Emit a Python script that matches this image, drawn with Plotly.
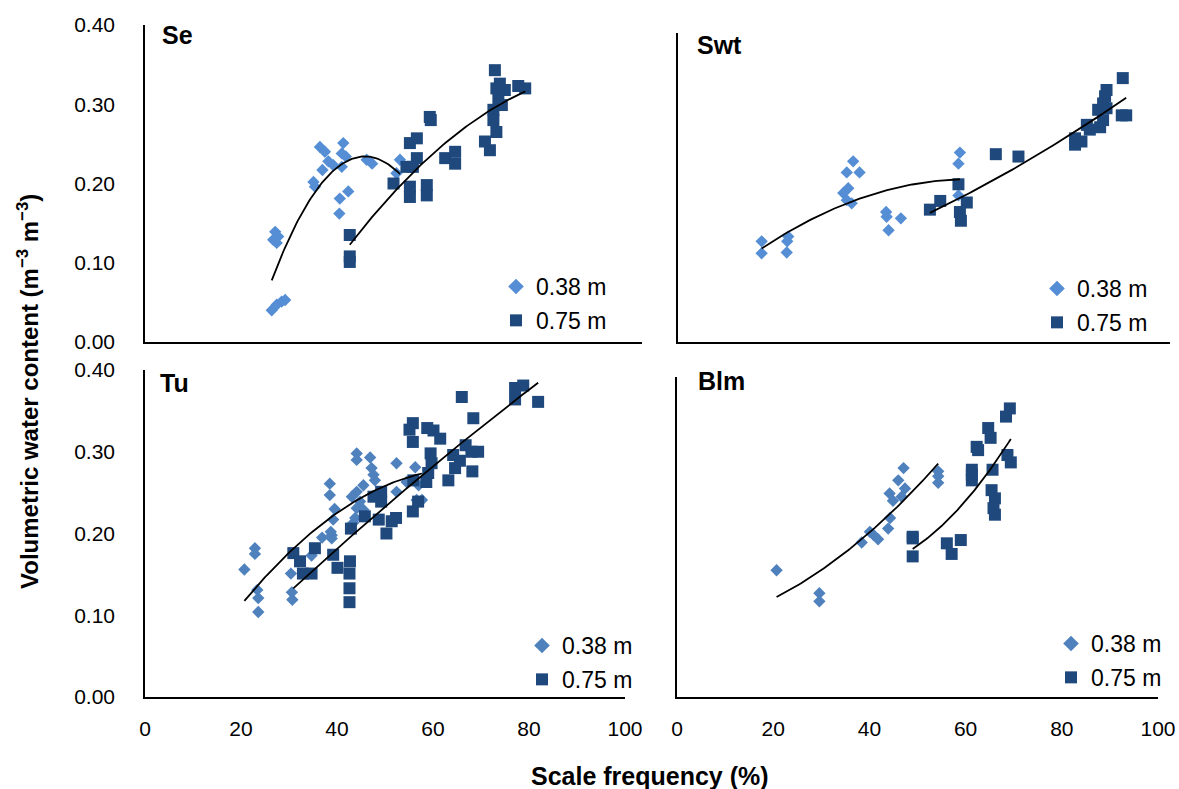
import numpy as np
import plotly.graph_objects as go

W, H = 1179, 789

# ---------------- data (scale frequency %, volumetric water content) ----------------
se_x38 = [25.5, 26.5, 27.5, 28.2, 26.2, 26.8, 25.8, 26.5, 33.9, 34.2, 35.7, 35.2, 36.2, 36.9, 37.9,
          39.9, 39.6, 40.4, 39.6, 39.2, 40.9, 39.1, 44.6, 45.7, 51.3, 50.6]
se_y38 = [0.040, 0.047, 0.051, 0.053, 0.139, 0.133, 0.129, 0.125, 0.202, 0.196, 0.217, 0.246, 0.240,
          0.228, 0.223, 0.251, 0.238, 0.234, 0.221, 0.181, 0.190, 0.162, 0.230, 0.225, 0.230, 0.213]
se_x75 = [70.4, 71.4, 70.7, 72.4, 71.1, 71.8, 70.1, 70.1, 70.7, 68.4, 69.4, 75.1, 76.5, 57.3, 57.5,
          53.3, 54.7, 54.7, 52.6, 53.9, 60.4, 62.4, 62.4, 50.0, 53.3, 53.3, 56.7, 56.7, 41.2, 41.2, 41.2]
se_y75 = [0.343, 0.326, 0.320, 0.318, 0.307, 0.299, 0.293, 0.280, 0.265, 0.253, 0.242, 0.323, 0.320,
          0.284, 0.280, 0.251, 0.257, 0.232, 0.221, 0.221, 0.232, 0.240, 0.225, 0.200, 0.196, 0.183,
          0.198, 0.185, 0.135, 0.108, 0.101]

swt_x38 = [17.0, 17.0, 22.4, 22.2, 22.1, 35.6, 34.3, 36.9, 34.6, 33.6, 34.3, 35.3, 42.3, 42.4, 45.3,
           42.8, 57.3, 57.0, 57.0]
swt_y38 = [0.127, 0.112, 0.133, 0.127, 0.113, 0.228, 0.214, 0.214, 0.194, 0.188, 0.179, 0.175, 0.164,
           0.158, 0.156, 0.141, 0.239, 0.225, 0.185]
swt_x75 = [51.2, 53.3, 57.0, 58.7, 57.3, 57.5, 64.6, 69.2, 80.7, 80.7, 82.0, 83.1, 83.7, 85.8, 85.4,
           86.4, 86.8, 86.4, 87.1, 87.1, 90.4, 90.2, 91.1]
swt_y75 = [0.167, 0.178, 0.199, 0.176, 0.164, 0.153, 0.237, 0.234, 0.257, 0.249, 0.253, 0.274, 0.268,
           0.271, 0.293, 0.280, 0.310, 0.301, 0.318, 0.295, 0.333, 0.286, 0.286]

tu_x38 = [20.7, 22.9, 22.9, 23.4, 23.6, 23.6, 30.4, 30.6, 30.7, 34.7, 36.9, 38.9, 38.9, 38.7, 39.2,
          39.5, 38.5, 38.5, 44.1, 44.1, 46.9, 47.2, 47.6, 47.9, 52.4, 56.3, 45.5, 44.1, 43.1, 44.8,
          44.1, 45.5, 43.8, 43.4, 52.4, 54.5, 57.0, 56.6, 57.7]
tu_y38 = [0.156, 0.182, 0.175, 0.131, 0.121, 0.104, 0.151, 0.128, 0.119, 0.173, 0.195, 0.198, 0.194,
          0.202, 0.217, 0.230, 0.261, 0.247, 0.298, 0.290, 0.293, 0.280, 0.272, 0.265, 0.286, 0.281,
          0.259, 0.251, 0.245, 0.239, 0.231, 0.229, 0.219, 0.213, 0.251, 0.263, 0.259, 0.241, 0.241]
tu_x75 = [30.9, 32.3, 32.9, 34.7, 35.4, 39.2, 40.1, 42.7, 42.6, 42.6, 42.6, 42.9, 45.8, 47.6, 49.2,
          49.2, 48.7, 51.4, 52.3, 50.3, 55.8, 55.1, 55.8, 58.8, 60.1, 61.5, 59.5, 59.7, 59.0, 58.6,
          55.9, 55.8, 56.9, 63.2, 64.6, 64.2, 65.6, 66.8, 68.0, 69.4, 68.2, 68.4, 66.0, 77.1, 78.8,
          77.1, 81.9]
tu_y75 = [0.176, 0.166, 0.151, 0.151, 0.182, 0.174, 0.158, 0.166, 0.151, 0.133, 0.116, 0.206, 0.221,
          0.245, 0.251, 0.239, 0.217, 0.215, 0.219, 0.200, 0.335, 0.327, 0.312, 0.329, 0.326, 0.316,
          0.298, 0.286, 0.274, 0.263, 0.265, 0.227, 0.239, 0.265, 0.280, 0.296, 0.289, 0.308, 0.300,
          0.300, 0.276, 0.341, 0.367, 0.378, 0.381, 0.364, 0.361]

blm_x38 = [20.7, 29.6, 29.6, 38.4, 40.1, 40.9, 41.8, 43.9, 44.3, 44.2, 44.9, 46.0, 47.1, 47.4, 46.7,
           54.3, 54.3, 54.3]
blm_y38 = [0.155, 0.127, 0.117, 0.189, 0.202, 0.198, 0.193, 0.206, 0.219, 0.249, 0.240, 0.265, 0.280,
           0.255, 0.245, 0.276, 0.270, 0.262]
blm_x75 = [49.0, 49.0, 49.0, 56.1, 57.1, 59.0, 61.3, 61.3, 61.3, 62.3, 62.6, 64.7, 65.2, 65.6, 65.4,
           66.1, 65.8, 66.1, 68.4, 69.2, 68.7, 69.4]
blm_y75 = [0.196, 0.194, 0.172, 0.188, 0.175, 0.192, 0.278, 0.265, 0.272, 0.306, 0.302, 0.329, 0.317,
           0.278, 0.253, 0.243, 0.231, 0.223, 0.343, 0.353, 0.296, 0.287]

panel_names = ["Se", "Swt", "Tu", "Blm"]
series_labels = ["0.38 m", "0.75 m"]
y_ticks = [0.0, 0.1, 0.2, 0.3, 0.4]
x_ticks = [0, 20, 40, 60, 80, 100]

# ---------------- styling / layout ----------------
C_LIGHT_TOP = "#558ED5"
C_LIGHT_BOT = "#4F81BD"
C_DARK = "#1F497D"
FONT = "Liberation Sans, Arial, sans-serif"


def px_x(v):
    return v / W


def px_y(v):
    return 1 - v / H


# panel geometry in pixels: (left, right, top, bottom)
panels = [
    dict(name=panel_names[0], x38=se_x38, y38=se_y38, x75=se_x75, y75=se_y75, box=(145, 642, 25, 342),
         ytop=0.40, light=C_LIGHT_TOP, leg=(537, 265), lab=(160, 35), ylabels=True, xlabels=False),
    dict(name=panel_names[1], x38=swt_x38, y38=swt_y38, x75=swt_x75, y75=swt_y75, box=(678, 1170, 33, 342),
         ytop=0.40 * 309 / 317, light=C_LIGHT_TOP, leg=(1078, 267), lab=(695, 45), ylabels=False, xlabels=False),
    dict(name=panel_names[2], x38=tu_x38, y38=tu_y38, x75=tu_x75, y75=tu_y75, box=(145, 625, 370, 697),
         ytop=0.40, light=C_LIGHT_BOT, leg=(563, 624), lab=(158, 383), ylabels=True, xlabels=True),
    dict(name=panel_names[3], x38=blm_x38, y38=blm_y38, x75=blm_x75, y75=blm_y75, box=(677, 1158, 377, 697),
         ytop=0.40 * 320 / 327, light=C_LIGHT_BOT, leg=(1092, 622), lab=(696, 381), ylabels=False, xlabels=True),
]

fig = go.Figure()
layout = dict(
    width=W, height=H, margin=dict(l=0, r=0, t=0, b=0, autoexpand=False),
    paper_bgcolor="white", plot_bgcolor="white",
    font=dict(family=FONT, size=21, color="black"),
    annotations=[],
)


def trend(xs, ys):
    c = np.polyfit(xs, ys, 2)
    xx = np.linspace(min(xs), max(xs), 80)
    return xx, np.polyval(c, xx)


for i, p in enumerate(panels):
    n = "" if i == 0 else str(i + 1)
    xa, ya = "x" + n, "y" + n
    legname = "legend" + n
    l, r, t, b = p["box"]
    fig.add_trace(go.Scatter(
        x=p["x38"], y=p["y38"], mode="markers", name=series_labels[0], xaxis=xa, yaxis=ya,
        legend=legname, legendgroup="a%d" % i,
        marker=dict(symbol="diamond", size=9.5, color=p["light"], line=dict(width=0))))
    fig.add_trace(go.Scatter(
        x=p["x75"], y=p["y75"], mode="markers", name=series_labels[1], xaxis=xa, yaxis=ya,
        legend=legname, legendgroup="b%d" % i,
        marker=dict(symbol="square", size=12, color=C_DARK, line=dict(width=0))))
    for xs, ys in ((p["x38"], p["y38"]), (p["x75"], p["y75"])):
        tx, ty = trend(xs, ys)
        fig.add_trace(go.Scatter(x=tx, y=ty, mode="lines", xaxis=xa, yaxis=ya, showlegend=False,
                                 line=dict(color="black", width=1.8), hoverinfo="skip"))

    layout["xaxis" + n] = dict(
        domain=[px_x(l), px_x(r)], range=[0, 100], anchor=ya, automargin=False,
        showline=True, linecolor="black", linewidth=1.5, showgrid=False, zeroline=False,
        tickvals=x_ticks, showticklabels=p["xlabels"], ticks="", ticklabelstandoff=12,
        tickfont=dict(size=21, family=FONT, color="black"))
    layout["yaxis" + n] = dict(
        domain=[px_y(b), px_y(t)], range=[0, p["ytop"]], anchor=xa, automargin=False,
        showline=True, linecolor="black", linewidth=1.5, showgrid=False, zeroline=False,
        tickvals=y_ticks, tickformat=".2f", showticklabels=p["ylabels"], ticks="",
        ticklabelstandoff=24, tickfont=dict(size=21, family=FONT, color="black"))
    lx, ly = p["leg"]
    layout[legname] = dict(
        x=px_x(lx - 41), y=px_y(ly), xanchor="left", yanchor="top", bgcolor="rgba(0,0,0,0)",
        font=dict(size=23, family=FONT, color="black"), traceorder="grouped", tracegroupgap=1,
        itemsizing="constant")
    layout["annotations"].append(dict(
        text="<b>%s</b>" % p["name"], x=px_x(p["lab"][0]), y=px_y(p["lab"][1]), xref="paper", yref="paper",
        xanchor="left", yanchor="middle", showarrow=False,
        font=dict(size=25, family=FONT, color="black")))

layout["annotations"].append(dict(
    text="<b>Volumetric water content (m<sup>−3</sup> m<sup>−3</sup>)</b>", x=px_x(28), y=px_y(392),
    xref="paper", yref="paper", textangle=-90, showarrow=False, xanchor="center", yanchor="middle",
    font=dict(size=24, family=FONT, color="black")))
layout["annotations"].append(dict(
    text="<b>Scale frequency (%)</b>", x=px_x(650), y=px_y(776), xref="paper", yref="paper",
    showarrow=False, xanchor="center", yanchor="middle", font=dict(size=25, family=FONT, color="black")))

fig.update_layout(**layout)
fig.write_html("out.html", config={"displayModeBar": False},
               post_script="document.body.style.margin='0px';document.body.style.overflow='hidden';")
